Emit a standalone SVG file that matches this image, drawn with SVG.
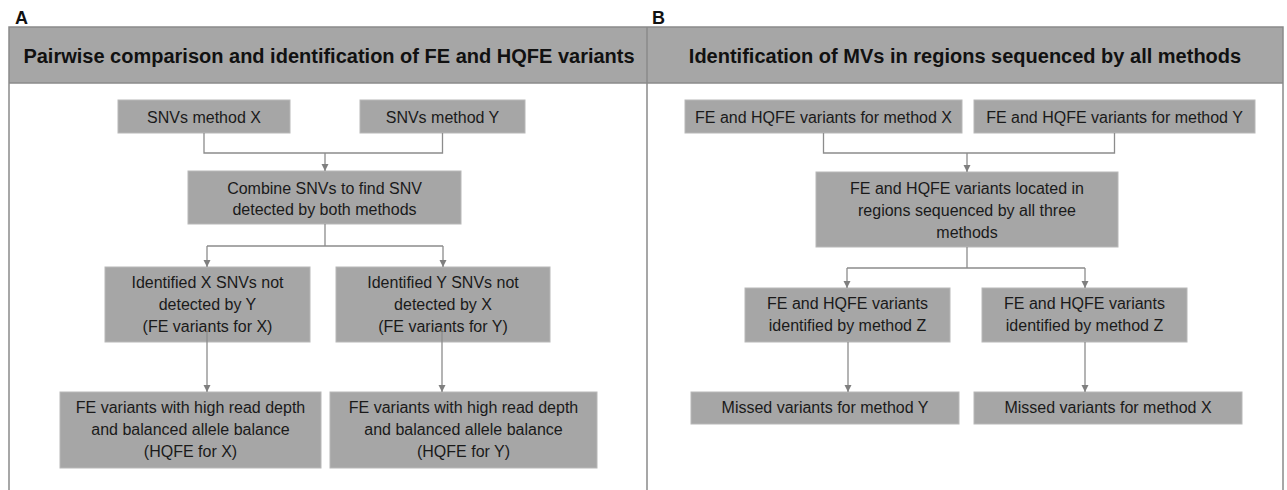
<svg xmlns="http://www.w3.org/2000/svg" width="1287" height="490" viewBox="0 0 1287 490">
<defs>
<style>
.bg{fill:#ffffff}
.frame{fill:none;stroke:#8a8a8a;stroke-width:1.5}
.hdr{fill:#a6a6a6;stroke:none}
.hdrline{stroke:#8a8a8a;stroke-width:1.5}
.title{font-family:"Liberation Sans",Arial,sans-serif;font-weight:bold;font-size:20px;fill:#111111;text-anchor:middle}
.panel{font-family:"Liberation Sans",Arial,sans-serif;font-weight:bold;font-size:18px;fill:#111111}
.box{fill:#a6a6a6;stroke:#b8b8b8;stroke-width:1}
.lbl{font-family:"Liberation Sans",Arial,sans-serif;font-size:16px;fill:#1a1a1a;text-anchor:middle}
.con{fill:none;stroke:#8c8c8c;stroke-width:1.3}
.arr{fill:none;stroke:#8c8c8c;stroke-width:1.3;marker-end:url(#ah)}
</style>
<marker id="ah" markerUnits="userSpaceOnUse" markerWidth="8" markerHeight="8" refX="7" refY="4" orient="auto">
<path d="M0,0.5 L7,4 L0,7.5 z" fill="#7f7f7f"/>
</marker>
</defs>
<rect class="bg" x="0" y="0" width="1287" height="490"/>

<!-- panel frames and headers -->
<rect class="hdr" x="9" y="27" width="1274" height="56"/>
<path class="frame" d="M9,490 V27 H1283 V490 M647,27 V490"/>
<line class="hdrline" x1="9" y1="83" x2="1283" y2="83"/>
<text class="panel" x="15" y="24">A</text>
<text class="panel" x="652" y="24">B</text>
<text class="title" x="329" y="63">Pairwise comparison and identification of FE and HQFE variants</text>
<text class="title" x="965" y="63">Identification of MVs in regions sequenced by all methods</text>

<!-- panel A nodes -->
<g id="a-snv-x">
<rect class="box" x="118" y="100" width="172" height="33"/>
<text class="lbl" x="204" y="122.5">SNVs method X</text>
</g>
<g id="a-snv-y">
<rect class="box" x="360" y="100" width="165" height="33"/>
<text class="lbl" x="442.5" y="122.5">SNVs method Y</text>
</g>
<g id="a-combine">
<rect class="box" x="188" y="171" width="273" height="53"/>
<text class="lbl" x="324.5" y="193.5">Combine SNVs to find SNV</text>
<text class="lbl" x="324.5" y="214.5">detected by both methods</text>
</g>
<g id="a-fe-x">
<rect class="box" x="105" y="267" width="205" height="75"/>
<text class="lbl" x="207.5" y="288">Identified X SNVs not</text>
<text class="lbl" x="207.5" y="310">detected by Y</text>
<text class="lbl" x="207.5" y="332">(FE variants for X)</text>
</g>
<g id="a-fe-y">
<rect class="box" x="336" y="267" width="214" height="75"/>
<text class="lbl" x="443" y="288">Identified Y SNVs not</text>
<text class="lbl" x="443" y="310">detected by X</text>
<text class="lbl" x="443" y="332">(FE variants for Y)</text>
</g>
<g id="a-hqfe-x">
<rect class="box" x="60" y="392" width="261" height="76"/>
<text class="lbl" x="190.5" y="413">FE variants with high read depth</text>
<text class="lbl" x="190.5" y="435">and balanced allele balance</text>
<text class="lbl" x="190.5" y="457">(HQFE for X)</text>
</g>
<g id="a-hqfe-y">
<rect class="box" x="330" y="392" width="267" height="76"/>
<text class="lbl" x="463.5" y="413">FE variants with high read depth</text>
<text class="lbl" x="463.5" y="435">and balanced allele balance</text>
<text class="lbl" x="463.5" y="457">(HQFE for Y)</text>
</g>

<!-- panel B nodes -->
<g id="b-var-x">
<rect class="box" x="685" y="100" width="277" height="33"/>
<text class="lbl" x="823.5" y="122.5">FE and HQFE variants for method X</text>
</g>
<g id="b-var-y">
<rect class="box" x="974" y="100" width="281" height="33"/>
<text class="lbl" x="1114.5" y="122.5">FE and HQFE variants for method Y</text>
</g>
<g id="b-located">
<rect class="box" x="816" y="172" width="302" height="75"/>
<text class="lbl" x="967" y="194">FE and HQFE variants located in</text>
<text class="lbl" x="967" y="216">regions sequenced by all three</text>
<text class="lbl" x="967" y="238">methods</text>
</g>
<g id="b-z-left">
<rect class="box" x="745" y="288" width="205" height="54"/>
<text class="lbl" x="847.5" y="309">FE and HQFE variants</text>
<text class="lbl" x="847.5" y="331">identified by method Z</text>
</g>
<g id="b-z-right">
<rect class="box" x="982" y="288" width="205" height="54"/>
<text class="lbl" x="1084.5" y="309">FE and HQFE variants</text>
<text class="lbl" x="1084.5" y="331">identified by method Z</text>
</g>
<g id="b-missed-y">
<rect class="box" x="691" y="392" width="268" height="32"/>
<text class="lbl" x="825" y="413">Missed variants for method Y</text>
</g>
<g id="b-missed-x">
<rect class="box" x="974" y="392" width="268" height="32"/>
<text class="lbl" x="1108" y="413">Missed variants for method X</text>
</g>

<!-- connectors -->
<g id="connectors">
<path class="con" d="M204,133 V153 H442.5 V133"/>
<path class="arr" d="M325,153 V171"/>
<path class="con" d="M325,224 V246 M207,246 H443"/>
<path class="arr" d="M207,246 V267"/>
<path class="arr" d="M443,246 V267"/>
<path class="arr" d="M207,328 V392"/>
<path class="arr" d="M442,328 V392"/>

<path class="con" d="M823.5,133 V153 H1114.5 V133"/>
<path class="arr" d="M967,153 V172"/>
<path class="con" d="M967,247 V268 M847,268 H1085"/>
<path class="arr" d="M847,268 V288"/>
<path class="arr" d="M1085,268 V288"/>
<path class="arr" d="M848,342 V392"/>
<path class="arr" d="M1085,342 V392"/>
</g>
</svg>
